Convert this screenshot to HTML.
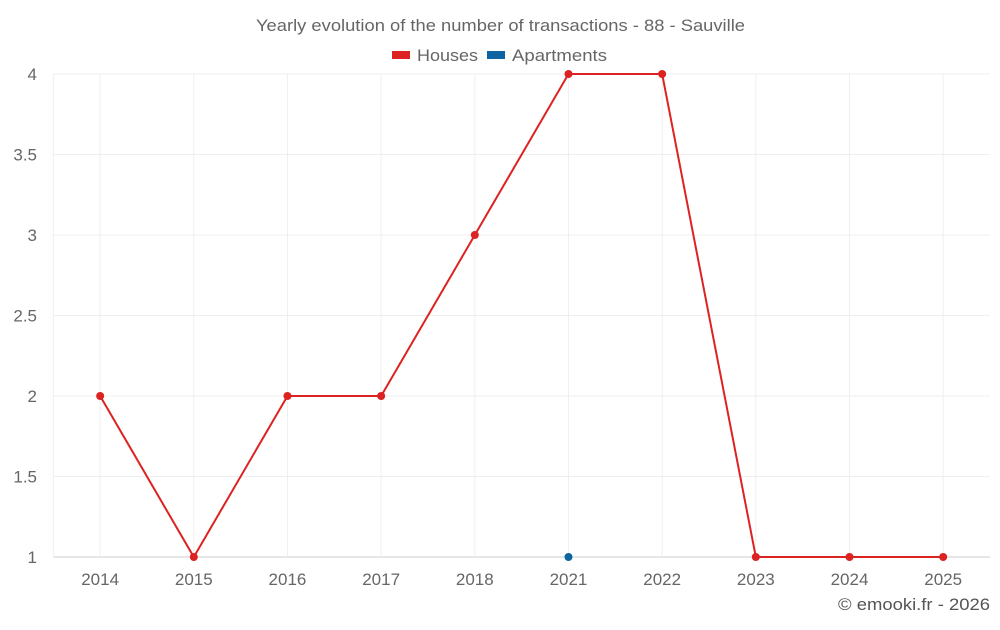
<!DOCTYPE html>
<html><head><meta charset="utf-8"><style>
body{margin:0;background:#fff;font-family:"Liberation Sans",sans-serif;}
svg text{font-family:"Liberation Sans",sans-serif;}
</style></head><body>
<svg id="chart" width="1000" height="625" xmlns="http://www.w3.org/2000/svg">
<text x="256" y="31" textLength="489" lengthAdjust="spacingAndGlyphs" font-size="17" fill="#666">Yearly evolution of the number of transactions - 88 - Sauville</text>
<g>
<rect x="392" y="51" width="18" height="8" fill="#dd2222"/>
<text x="417" y="61" textLength="61" lengthAdjust="spacingAndGlyphs" font-size="17" fill="#666">Houses</text>
<rect x="487" y="51" width="18" height="8" fill="#0c64a0"/>
<text x="512" y="61" textLength="95" lengthAdjust="spacingAndGlyphs" font-size="17" fill="#666">Apartments</text>
</g>
<g id="grid"></g><g id="axes"></g><g id="series"></g>
<text x="838" y="610" textLength="152" lengthAdjust="spacingAndGlyphs" font-size="17" fill="#555">© emooki.fr - 2026</text>
</svg>
<script>
const categories=["2014","2015","2016","2017","2018","2021","2022","2023","2024","2025"];
const houses=[2,1,2,2,3,4,4,1,1,1];
const apartments=[null,null,null,null,null,1,null,null,null,null];
const yTicks=[1,1.5,2,2.5,3,3.5,4];
const NS="http://www.w3.org/2000/svg";
const L=53.3,R=990,T=74,B=557,yMin=1,yMax=4;
const bw=(R-L)/categories.length;
const x=i=>L+bw*(i+0.5);
const y=v=>B-(v-yMin)/(yMax-yMin)*(B-T);
function mk(tag,attrs,parent){const e=document.createElementNS(NS,tag);for(const k in attrs)e.setAttribute(k,attrs[k]);parent.appendChild(e);return e;}
const grid=document.getElementById('grid'),axes=document.getElementById('axes'),series=document.getElementById('series');
yTicks.forEach(t=>{
 const l=mk('line',{x1:L,x2:R,y1:y(t),y2:y(t),stroke:t===yMin?'#ccc':'#efefef','stroke-width':1},grid);
 
 
 const tx=mk('text',{x:37,y:y(t)+6,'text-anchor':'end','font-size':17,fill:'#666'},axes);
 tx.textContent=String(t);
 
 
});
const lv=mk('line',{x1:L,x2:L,y1:T,y2:B,stroke:'#efefef'},grid);


categories.forEach((c,i)=>{
 const l=mk('line',{x1:x(i),x2:x(i),y1:T,y2:B,stroke:'#efefef'},grid);
 
 
 const tx=mk('text',{x:x(i),y:585,'text-anchor':'middle','font-size':17,fill:'#666'},axes);
 tx.textContent=c;
 
 
});
function draw(data,color,name){
 let d='',pen=false;
 data.forEach((v,i)=>{if(v==null){pen=false;return;}d+=(pen?'L':'M')+x(i)+' '+y(v)+' ';pen=true;});
 if(d){const p=mk('path',{d:d,fill:'none',stroke:color,'stroke-width':2},series);
 
 }
 data.forEach((v,i)=>{if(v==null)return;
  const c=mk('circle',{cx:x(i),cy:y(v),r:4,fill:color},series);
  
  });
}
draw(houses,'#dd2222','houses');
draw(apartments,'#0c64a0','apartments');
</script>
</body></html>
